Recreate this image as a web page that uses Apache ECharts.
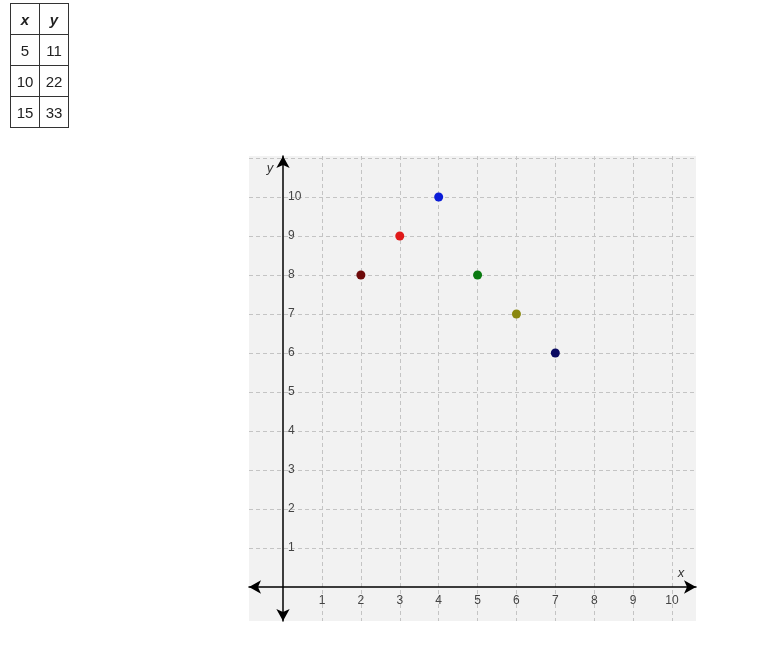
<!DOCTYPE html>
<html>
<head>
<meta charset="utf-8">
<script src="https://cdn.jsdelivr.net/npm/echarts@6/dist/echarts.min.js"></script>
<style>
html,body{margin:0;padding:0;background:#fff;}
#chart{position:absolute;left:0;top:0;width:773px;height:645px;}
#tbl{position:absolute;left:10px;top:3px;border-collapse:collapse;font-family:"Liberation Sans",Arial,sans-serif;font-size:15px;color:#222;z-index:2;}
#tbl td,#tbl th{border:1px solid #333;width:28px;height:30px;padding:0;text-align:center;}
#tbl th{font-style:italic;font-weight:bold;}
</style>
</head>
<body>
<div id="chart"></div>
<table id="tbl"></table>
<script>
// table data
const tableX = [5, 10, 15];
const tableY = [11, 22, 33];
// plotted points
const pointX = [2, 3, 4, 5, 6, 7];
const pointY = [8, 9, 10, 8, 7, 6];
const pointColors = ['#6e0a0a', '#e01a1a', '#0a1cd8', '#0a7a10', '#8a8810', '#0a0a62'];
// ticks / gridlines
const xGrid = [1, 2, 3, 4, 5, 6, 7, 8, 9, 10];
const yGrid = [1, 2, 3, 4, 5, 6, 7, 8, 9, 10, 11];
const xLabels = [1, 2, 3, 4, 5, 6, 7, 8, 9, 10];
const yLabels = [1, 2, 3, 4, 5, 6, 7, 8, 9, 10];
const xRange = [-0.877, 10.617];
const yRange = [-0.872, 11.05];

// build table
let html = '<tr><th>x</th><th>y</th></tr>';
for (let i = 0; i < tableX.length; i++) {
  html += '<tr><td>' + tableX[i] + '</td><td>' + tableY[i] + '</td></tr>';
}
document.getElementById('tbl').innerHTML = html;

const chart = echarts.init(document.getElementById('chart'), null, {renderer: 'canvas'});
const font = 'Liberation Sans';
const split = {show: true, lineStyle: {color: '#c4c4c4', type: [4, 3], width: 1}};
const axisLine = {show: true, onZero: false, symbol: ['arrow', 'arrow'], symbolSize: [10, 12], lineStyle: {color: '#000', width: 1.5}};

chart.setOption({
  animation: false,
  backgroundColor: '#fff',
  grid: {left: 249, top: 156, width: 447, height: 465, show: true, backgroundColor: '#f2f2f2', borderWidth: 0, containLabel: false, outerBoundsMode: 'none'},
  xAxis: {
    type: 'value', min: xRange[0], max: xRange[1],
    position: 'bottom', offset: -34,
    axisLine: axisLine,
    axisTick: {show: false, customValues: xGrid},
    splitLine: split,
    axisLabel: {customValues: xLabels, color: '#444', fontSize: 12, fontFamily: font, margin: 8}
  },
  yAxis: {
    type: 'value', min: yRange[0], max: yRange[1],
    position: 'left', offset: -34,
    axisLine: axisLine,
    axisTick: {show: false, customValues: yGrid},
    splitLine: split,
    axisLabel: {customValues: yLabels, inside: true, color: '#444', fontSize: 12, fontFamily: font, margin: 5}
  },
  series: [{
    type: 'scatter',
    symbolSize: 9,
    itemStyle: {opacity: 1},
    data: pointX.map((x, i) => ({value: [x, pointY[i]], itemStyle: {color: pointColors[i], opacity: 1}}))
  }],
  graphic: [
    {type: 'text', x: 270, y: 168, style: {text: 'y', font: 'italic 13px "Liberation Sans"', fill: '#333', align: 'center', verticalAlign: 'middle'}},
    {type: 'text', x: 681, y: 573, style: {text: 'x', font: 'italic 13px "Liberation Sans"', fill: '#333', align: 'center', verticalAlign: 'middle'}}
  ]
});
</script>
</body>
</html>
